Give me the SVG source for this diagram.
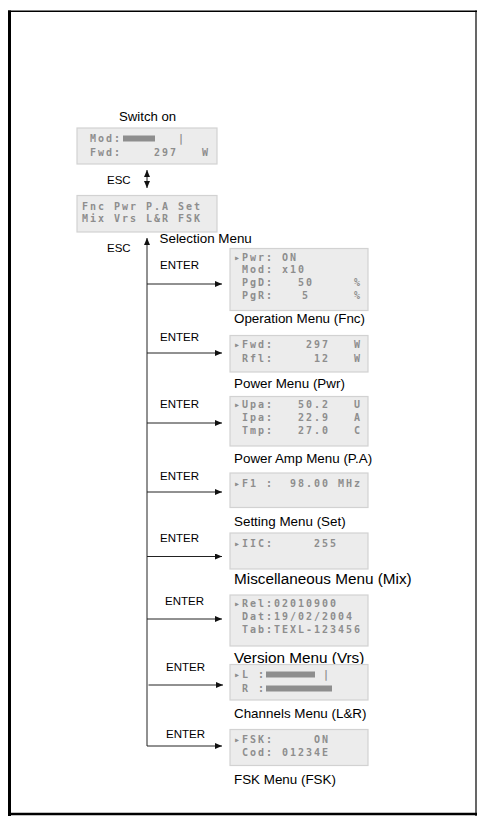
<svg xmlns="http://www.w3.org/2000/svg" width="477" height="816" viewBox="0 0 477 816">
<style>
.lbl{font-family:"Liberation Sans",Arial,sans-serif;fill:#000;}
.sm{font-size:11.5px;}
.md{font-size:13.4px;}
.lg{font-size:15.3px;}
.lcd{fill:#ececec;stroke:#d2d2d2;stroke-width:1.2;}
.t{font-family:"DejaVu Sans Mono","Liberation Mono",monospace;font-size:10px;font-weight:bold;letter-spacing:1.98px;fill:#8e8e8e;}
.bar{fill:#8e8e8e;}
.ln{stroke:#222;stroke-width:1;fill:none;}
.frame{stroke:#000;fill:none;}
</style>
<defs>
<marker id="ah" markerUnits="userSpaceOnUse" markerWidth="8" markerHeight="6" refX="7" refY="3" orient="auto">
<path d="M0,0 L7,3 L0,6 Z" fill="#111"/>
</marker>
<marker id="ahs" markerUnits="userSpaceOnUse" markerWidth="8" markerHeight="6" refX="0" refY="3" orient="auto">
<path d="M7,0 L0,3 L7,6 Z" fill="#111"/>
</marker>
</defs>
<rect width="477" height="816" fill="#fff"/>
<g id="frame">
<line class="frame" x1="8" y1="11.2" x2="477" y2="11.2" stroke-width="1.6"/>
<line class="frame" x1="9.5" y1="10.5" x2="9.5" y2="816" stroke-width="3"/>
<line class="frame" x1="476" y1="10.5" x2="476" y2="816" stroke-width="1.2"/>
<line class="frame" x1="8" y1="814" x2="477" y2="814" stroke-width="2.5"/>
</g>

<g id="connectors">
<line class="ln" x1="147" y1="170" x2="147" y2="188" marker-start="url(#ahs)" marker-end="url(#ah)"/>
<path class="ln" d="M222,746 L147,746 L147,238" marker-start="url(#ahs)" marker-end="url(#ah)"/>
<line class="ln" x1="147" y1="284" x2="222" y2="284" marker-end="url(#ah)"/>
<line class="ln" x1="147" y1="353" x2="222" y2="353" marker-end="url(#ah)"/>
<line class="ln" x1="147" y1="423" x2="222" y2="423" marker-end="url(#ah)"/>
<line class="ln" x1="147" y1="492" x2="222" y2="492" marker-end="url(#ah)"/>
<line class="ln" x1="147" y1="556.5" x2="222" y2="556.5" marker-end="url(#ah)"/>
<line class="ln" x1="147" y1="619" x2="222" y2="619" marker-end="url(#ah)"/>
<line class="ln" x1="148.5" y1="685" x2="223" y2="685" marker-end="url(#ah)"/>
<text class="lbl sm" x="107" y="183.6">ESC</text>
<text class="lbl sm" x="107" y="251.6">ESC</text>
<text class="lbl sm" x="160" y="269.1">ENTER</text>
<text class="lbl sm" x="160" y="341.1">ENTER</text>
<text class="lbl sm" x="160" y="407.6">ENTER</text>
<text class="lbl sm" x="160" y="480.1">ENTER</text>
<text class="lbl sm" x="160" y="542.1">ENTER</text>
<text class="lbl sm" x="165" y="604.6">ENTER</text>
<text class="lbl sm" x="166" y="671.1">ENTER</text>
<text class="lbl sm" x="166" y="737.6">ENTER</text>
</g>

<g id="switch-on">
<text class="lbl md" x="119" y="120.6" style="font-size:13.2px">Switch on</text>
<rect class="lcd" x="77" y="128" width="140" height="36"/>
<text class="t" x="90" y="141.8">Mod:</text>
<rect class="bar" x="123" y="135.5" width="32" height="6"/>
<text class="t" x="178" y="141.8">|</text>
<text class="t" x="90" y="155.8">Fwd:</text>
<text class="t" x="154" y="155.8">297</text>
<text class="t" x="202" y="155.8">W</text>
</g>

<g id="selection-menu">
<rect class="lcd" x="77" y="195.5" width="140" height="36.5"/>
<text class="t" x="82" y="209.6">Fnc Pwr P.A Set</text>
<text class="t" x="82" y="221.8">Mix Vrs L&amp;R FSK</text>
<text class="lbl md" x="159.5" y="242.5">Selection Menu</text>
</g>

<g id="fnc">
<rect class="lcd" x="230" y="248.5" width="138" height="62"/>
<text class="t" x="234" y="260.6">▸Pwr:</text>
<text class="t" x="282" y="260.6">ON</text>
<text class="t" x="242" y="273.1">Mod:</text>
<text class="t" x="282" y="273.1">x10</text>
<text class="t" x="242" y="286.1">PgD:</text>
<text class="t" x="298" y="286.1">50</text>
<text class="t" x="354" y="286.1">%</text>
<text class="t" x="242" y="298.6">PgR:</text>
<text class="t" x="302" y="298.6">5</text>
<text class="t" x="354" y="298.6">%</text>
<text class="lbl md" x="234" y="323.4">Operation Menu (Fnc)</text>
</g>

<g id="pwr">
<rect class="lcd" x="230" y="335.5" width="138" height="36.5"/>
<text class="t" x="234" y="347.6">▸Fwd:</text>
<text class="t" x="306" y="347.6">297</text>
<text class="t" x="354" y="347.6">W</text>
<text class="t" x="242" y="361.6">Rfl:</text>
<text class="t" x="314" y="361.6">12</text>
<text class="t" x="354" y="361.6">W</text>
<text class="lbl md" x="234" y="388">Power Menu (Pwr)</text>
</g>

<g id="pa">
<rect class="lcd" x="230" y="396.5" width="138" height="49.5"/>
<text class="t" x="234" y="408.1">▸Upa:</text>
<text class="t" x="298" y="408.1">50.2</text>
<text class="t" x="354" y="408.1">U</text>
<text class="t" x="242" y="421.1">Ipa:</text>
<text class="t" x="298" y="421.1">22.9</text>
<text class="t" x="354" y="421.1">A</text>
<text class="t" x="242" y="434.1">Tmp:</text>
<text class="t" x="298" y="434.1">27.0</text>
<text class="t" x="354" y="434.1">C</text>
<text class="lbl md" x="234" y="462.6">Power Amp Menu (P.A)</text>
</g>

<g id="set">
<rect class="lcd" x="230" y="473" width="138" height="34.5"/>
<text class="t" x="234" y="486.5">▸F1</text>
<text class="t" x="266" y="486.5">:</text>
<text class="t" x="290" y="486.5">98.00</text>
<text class="t" x="338" y="486.5">MHz</text>
<text class="lbl md" x="234" y="525.8">Setting Menu (Set)</text>
</g>

<g id="mix">
<rect class="lcd" x="230" y="533" width="138" height="36"/>
<text class="t" x="234" y="546.6">▸IIC:</text>
<text class="t" x="314" y="546.6">255</text>
<text class="lbl lg" x="234" y="584.4">Miscellaneous Menu (Mix)</text>
</g>

<g id="vrs">
<rect class="lcd" x="230" y="595" width="138" height="51"/>
<text class="t" x="234" y="606.6">▸Rel:02010900</text>
<text class="t" x="242" y="619.6">Dat:19/02/2004</text>
<text class="t" x="242" y="633.1">Tab:TEXL-123456</text>
<text class="lbl lg" x="234" y="662.8">Version Menu (Vrs)</text>
</g>

<g id="lr">
<rect class="lcd" x="230" y="664.5" width="138" height="35.5"/>
<text class="t" x="234" y="678.1">▸L</text>
<text class="t" x="258" y="678.1">:</text>
<rect class="bar" x="266" y="671.5" width="49" height="6"/>
<text class="t" x="323" y="678.1">|</text>
<text class="t" x="242" y="692.1">R</text>
<text class="t" x="258" y="692.1">:</text>
<rect class="bar" x="266" y="685.5" width="66" height="6"/>
<text class="lbl md" x="234" y="717.5">Channels Menu (L&amp;R)</text>
</g>

<g id="fsk">
<rect class="lcd" x="230" y="729.5" width="138" height="36"/>
<text class="t" x="234" y="743.4">▸FSK:</text>
<text class="t" x="314" y="743.4">ON</text>
<text class="t" x="242" y="756.4">Cod:</text>
<text class="t" x="282" y="756.4">01234E</text>
<text class="lbl md" x="234" y="783.6">FSK Menu (FSK)</text>
</g>
</svg>
